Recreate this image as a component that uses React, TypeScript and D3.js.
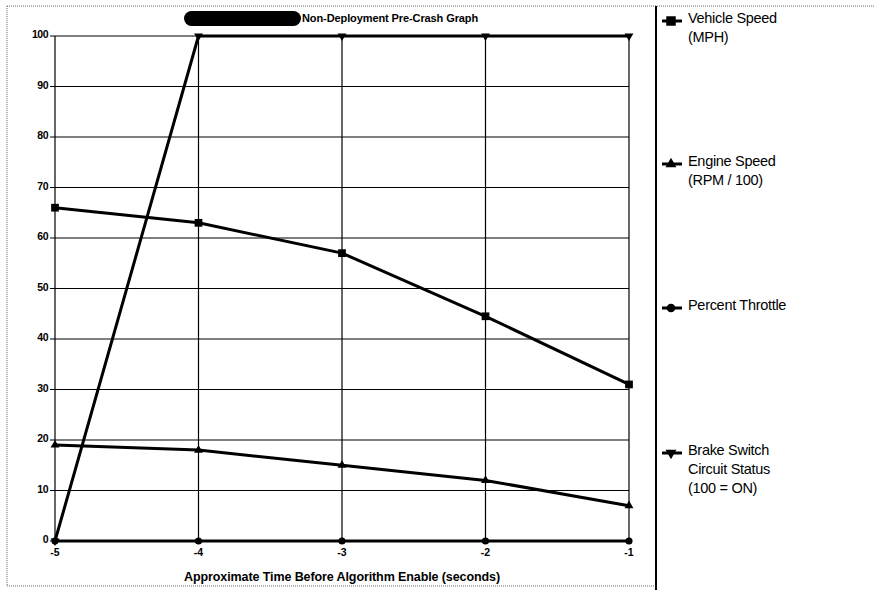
import React from "react";
import * as d3 from "d3";

const times = [-5, -4, -3, -2, -1];
const vehicleSpeed = [66, 63, 57, 44.5, 31];
const engineSpeed = [19, 18, 15, 12, 7];
const throttle = [0, 0, 0, 0, 0];
const brake = [0, 100, 100, 100, 100];
const yTicks = [0, 10, 20, 30, 40, 50, 60, 70, 80, 90, 100];
const title = "Non-Deployment Pre-Crash Graph";
const xTitle = "Approximate Time Before Algorithm Enable (seconds)";

const W = 877, H = 590;
const x = d3.scaleLinear().domain([-5, -1]).range([55, 629]);
const y = d3.scaleLinear().domain([0, 100]).range([541, 36]);
const FONT = "Liberation Sans, Arial, sans-serif";

type Marker = "square" | "triangle" | "circle" | "down";
const series: { name: string[]; values: number[]; marker: Marker; ly: number }[] = [
  { name: ["Vehicle Speed", "(MPH)"], values: vehicleSpeed, marker: "square", ly: 21 },
  { name: ["Engine Speed", "(RPM / 100)"], values: engineSpeed, marker: "triangle", ly: 164 },
  { name: ["Percent Throttle"], values: throttle, marker: "circle", ly: 308 },
  { name: ["Brake Switch", "Circuit Status", "(100 = ON)"], values: brake, marker: "down", ly: 453 },
];

function MarkerShape({ type, cx, cy, scale = 1 }: { type: Marker; cx: number; cy: number; scale?: number }) {
  const sym =
    type === "square" ? d3.symbolSquare :
    type === "circle" ? d3.symbolCircle : d3.symbolTriangle;
  const size = (type === "circle" ? 40 : type === "square" ? 60 : 34) * scale;
  const path = d3.symbol(sym, size)() || "";
  const rot = type === "down" ? 180 : 0;
  return <path d={path} transform={`translate(${cx},${cy}) rotate(${rot})`} fill="#000" />;
}

export default function App() {
  const line = d3.line<number>().x((_, i) => x(times[i])).y((d) => y(d));
  return (
    <svg width={W} height={H} style={{ position: "absolute", left: 0, top: 0, background: "#fff" }} fontFamily={FONT}>
      {/* outer frame */}
      <line x1={7} y1={6} x2={875} y2={6} stroke="#666" strokeWidth={1} strokeDasharray="1,1" />
      <line x1={7} y1={6} x2={7} y2={586} stroke="#666" strokeWidth={1} strokeDasharray="1,1" />
      <line x1={7} y1={586} x2={656} y2={586} stroke="#666" strokeWidth={1} strokeDasharray="1,1" />
      <line x1={656} y1={6} x2={656} y2={590} stroke="#000" strokeWidth={2} />

      {/* title */}
      <rect x={184} y={11} width={117} height={15} rx={7.5} fill="#000" />
      <text x={302} y={22} fontSize={11} fontWeight="bold" letterSpacing={-0.1}>{title}</text>

      {/* grid */}
      {yTicks.map((t) => (
        <g key={t}>
          <line x1={50} x2={629} y1={y(t)} y2={y(t)} stroke="#000" strokeWidth={1.2} />
          <text x={48} y={y(t) + 2} fontSize={10.5} fontWeight="bold" textAnchor="end" letterSpacing={-0.5}>{t}</text>
        </g>
      ))}
      {times.map((t) => (
        <g key={t}>
          <line x1={x(t)} x2={x(t)} y1={y(100)} y2={y(0) + 3} stroke="#000" strokeWidth={1.2} />
          <text x={x(t)} y={556} fontSize={10.5} fontWeight="bold" textAnchor="middle">{t}</text>
        </g>
      ))}
      <text x={342} y={581} fontSize={12.5} fontWeight="bold" textAnchor="middle" letterSpacing={-0.1}>{xTitle}</text>

      {/* series */}
      {series.map((s) => (
        <g key={s.marker}>
          <path d={line(s.values) || ""} fill="none" stroke="#000" strokeWidth={3} />
          {s.values.map((v, i) => (
            <MarkerShape key={i} type={s.marker} cx={x(times[i])} cy={y(v)} />
          ))}
        </g>
      ))}

      {/* legend */}
      {series.map((s) => (
        <g key={"l" + s.marker}>
          <line x1={662} x2={682} y1={s.ly} y2={s.ly} stroke="#000" strokeWidth={3} />
          <MarkerShape type={s.marker} cx={671} cy={s.ly} scale={1.5} />
          {s.name.map((n, j) => (
            <text key={j} x={688} y={s.ly + 2 + j * 19} fontSize={14.5} letterSpacing={-0.3}>{n}</text>
          ))}
        </g>
      ))}
    </svg>
  );
}
